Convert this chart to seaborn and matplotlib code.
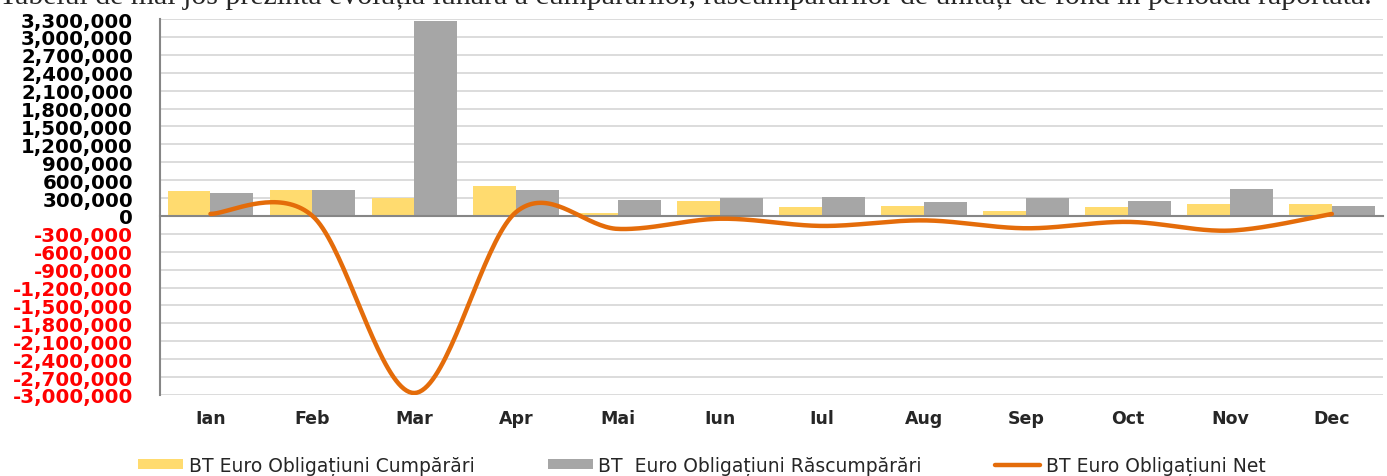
import numpy as np
import pandas as pd
import seaborn as sns
import matplotlib
matplotlib.use("Agg")
import matplotlib.pyplot as plt
import matplotlib.ticker as ticker

# date lunare
luni = ["Ian", "Feb", "Mar", "Apr", "Mai", "Iun", "Iul", "Aug", "Sep", "Oct", "Nov", "Dec"]
cumparari = [419000, 435000, 300000, 503000, 45000, 250000, 157000, 174000, 90000, 150000, 200000, 200000]
rascumparari = [385000, 435000, 3268000, 435000, 263000, 297000, 325000, 241000, 297000, 250000, 446000, 167000]
net = [34000, 0, -2968000, 68000, -218000, -47000, -168000, -75000, -207000, -100000, -246000, 33000]

serie_c = "BT Euro Obligațiuni Cumpărări"
serie_r = "BT  Euro Obligațiuni Răscumpărări"
serie_n = "BT Euro Obligațiuni Net"
titlu = ("Tabelul de mai jos prezintă evoluția lunară a cumpărărilor, "
         "răscumpărărilor de unități de fond în perioada raportată.")


def curba_neteda(ys, n=40):
    """Linie netezita (Catmull-Rom / Bezier, ca in Excel) prin punctele date."""
    p = np.column_stack([np.arange(len(ys), dtype=float), np.asarray(ys, dtype=float)])
    ext = np.vstack([p[0], p, p[-1]])
    t = np.linspace(0, 1, n)[:, None]
    seg = []
    for i in range(len(p) - 1):
        p0, p1, p2, p3 = ext[i], ext[i + 1], ext[i + 2], ext[i + 3]
        c1 = p1 + (p2 - p0) / 6
        c2 = p2 - (p3 - p1) / 6
        b = ((1 - t) ** 3) * p1 + 3 * ((1 - t) ** 2) * t * c1 + 3 * (1 - t) * t ** 2 * c2 + t ** 3 * p2
        seg.append(b if i == 0 else b[1:])
    b = np.vstack(seg)
    return b[:, 0], b[:, 1]


def grafic():
    sns.set_style("white")
    plt.rcParams["font.family"] = ["DejaVu Sans"]

    df = pd.DataFrame({
        "luna": luni * 2,
        "valoare": cumparari + rascumparari,
        "serie": [serie_c] * 12 + [serie_r] * 12,
    })

    fig = plt.figure(figsize=(13.87, 4.77), dpi=100)
    ax = fig.add_axes([0.115, 0.170, 0.882, 0.788])

    sns.barplot(data=df, x="luna", y="valoare", hue="serie", order=luni,
                palette=["#FFDB6F", "#A6A6A6"], saturation=1, width=0.84, gap=0,
                errorbar=None, ax=ax, zorder=2, linewidth=0)

    xs, ys = curba_neteda(net)
    sns.lineplot(x=xs, y=ys, sort=False, color="#E46C0A", linewidth=3.2,
                 label=serie_n, ax=ax, zorder=3)

    ax.set_ylim(-3000000, 3300000)
    ax.set_xlim(-0.5, 11.5)
    ax.set_yticks(np.arange(-3000000, 3300001, 300000))
    ax.yaxis.set_major_formatter(ticker.FuncFormatter(lambda v, p: f"{int(v):,}"))
    ax.grid(axis="y", color="#D9D9D9", linewidth=1.3)
    ax.set_axisbelow(True)

    for s in ["top", "right"]:
        ax.spines[s].set_visible(False)
    ax.spines["left"].set_color("#868686")
    ax.spines["left"].set_linewidth(1.5)
    ax.spines["bottom"].set_position(("data", 0))
    ax.spines["bottom"].set_color("#868686")
    ax.spines["bottom"].set_linewidth(1.5)

    # semne intre categorii pe axa zero, etichete jos
    ax.set_xticks(np.arange(0.5, 11.5, 1))
    ax.set_xticklabels([])
    ax.set_xticks(range(12), minor=True)
    ax.set_xticklabels(luni, minor=True, fontsize=12.5, fontweight="bold")
    ax.tick_params(axis="x", which="major", direction="out", length=5, color="#868686", width=1.5)
    ax.tick_params(axis="x", which="minor", length=0, pad=139)
    ax.tick_params(axis="y", direction="out", length=5, color="#868686", width=1.5, pad=14)
    ax.set_xlabel("")
    ax.set_ylabel("")

    for lab, v in zip(ax.get_yticklabels(), ax.get_yticks()):
        lab.set_fontweight("bold")
        lab.set_fontsize(14.2)
        lab.set_color("red" if v < 0 else "black")

    handles, labels = ax.get_legend_handles_labels()
    ax.get_legend().remove()
    fig.legend(handles, labels, loc="center", bbox_to_anchor=(0.506, 0.022), ncol=3,
               frameon=False, fontsize=13.5, handlelength=2.4, handleheight=0.5,
               handletextpad=0.3, columnspacing=3.9)

    fig.text(-0.001, 1 - 4 / 477, titlu, ha="left", va="baseline",
             fontfamily="Liberation Serif", fontsize=21.5)

    fig.savefig("out.png", dpi=100)
    plt.close(fig)


if __name__ == "__main__":
    grafic()
